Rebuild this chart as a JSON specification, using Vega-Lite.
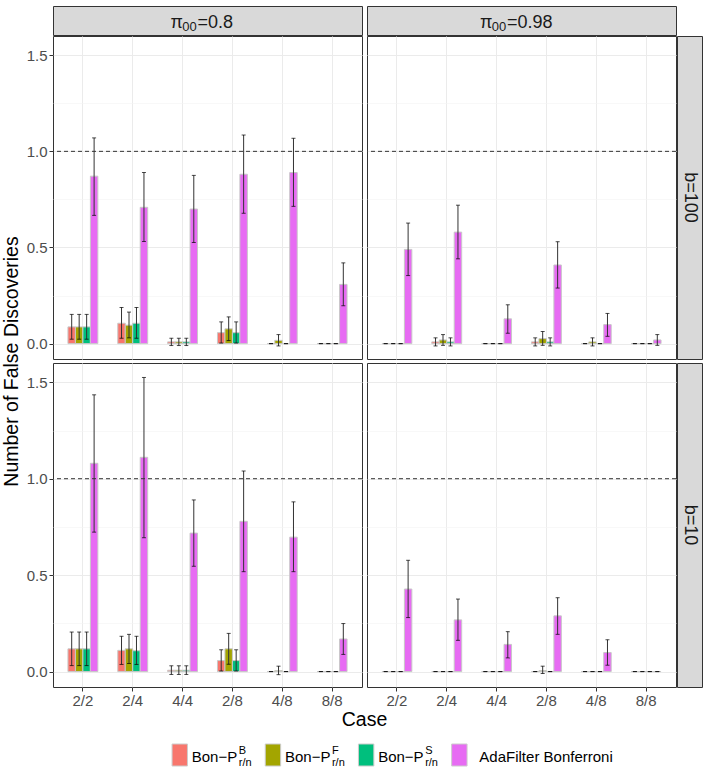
{
  "$schema": "https://vega.github.io/schema/vega-lite/v6.json",
  "padding": {"left": 2, "top": 5, "right": 5, "bottom": 0},
  "config": {"font": "Liberation Sans", "view": {"stroke": "#333333"}, "legend": {"disable": true}},
  "datasets": {
    "fd": [
      {"pi":"0.8","b":"100","case":"2/2","method":"Bon-P(B)","mean":0.087,"lo":0.023,"hi":0.152},
      {"pi":"0.8","b":"100","case":"2/2","method":"Bon-P(F)","mean":0.087,"lo":0.023,"hi":0.152},
      {"pi":"0.8","b":"100","case":"2/2","method":"Bon-P(S)","mean":0.087,"lo":0.023,"hi":0.152},
      {"pi":"0.8","b":"100","case":"2/2","method":"AdaFilter Bonferroni","mean":0.871,"lo":0.667,"hi":1.07},
      {"pi":"0.8","b":"100","case":"2/4","method":"Bon-P(B)","mean":0.106,"lo":0.028,"hi":0.188},
      {"pi":"0.8","b":"100","case":"2/4","method":"Bon-P(F)","mean":0.096,"lo":0.03,"hi":0.164},
      {"pi":"0.8","b":"100","case":"2/4","method":"Bon-P(S)","mean":0.106,"lo":0.028,"hi":0.188},
      {"pi":"0.8","b":"100","case":"2/4","method":"AdaFilter Bonferroni","mean":0.709,"lo":0.531,"hi":0.89},
      {"pi":"0.8","b":"100","case":"4/4","method":"Bon-P(B)","mean":0.009,"lo":-0.01,"hi":0.028},
      {"pi":"0.8","b":"100","case":"4/4","method":"Bon-P(F)","mean":0.009,"lo":-0.01,"hi":0.028},
      {"pi":"0.8","b":"100","case":"4/4","method":"Bon-P(S)","mean":0.009,"lo":-0.01,"hi":0.028},
      {"pi":"0.8","b":"100","case":"4/4","method":"AdaFilter Bonferroni","mean":0.7,"lo":0.526,"hi":0.875},
      {"pi":"0.8","b":"100","case":"2/8","method":"Bon-P(B)","mean":0.057,"lo":0.003,"hi":0.113},
      {"pi":"0.8","b":"100","case":"2/8","method":"Bon-P(F)","mean":0.077,"lo":0.016,"hi":0.139},
      {"pi":"0.8","b":"100","case":"2/8","method":"Bon-P(S)","mean":0.057,"lo":0.003,"hi":0.113},
      {"pi":"0.8","b":"100","case":"2/8","method":"AdaFilter Bonferroni","mean":0.881,"lo":0.678,"hi":1.085},
      {"pi":"0.8","b":"100","case":"4/8","method":"Bon-P(B)","mean":0,"lo":0,"hi":0},
      {"pi":"0.8","b":"100","case":"4/8","method":"Bon-P(F)","mean":0.017,"lo":-0.012,"hi":0.047},
      {"pi":"0.8","b":"100","case":"4/8","method":"Bon-P(S)","mean":0,"lo":0,"hi":0},
      {"pi":"0.8","b":"100","case":"4/8","method":"AdaFilter Bonferroni","mean":0.89,"lo":0.714,"hi":1.068},
      {"pi":"0.8","b":"100","case":"8/8","method":"Bon-P(B)","mean":0,"lo":0,"hi":0},
      {"pi":"0.8","b":"100","case":"8/8","method":"Bon-P(F)","mean":0,"lo":0,"hi":0},
      {"pi":"0.8","b":"100","case":"8/8","method":"Bon-P(S)","mean":0,"lo":0,"hi":0},
      {"pi":"0.8","b":"100","case":"8/8","method":"AdaFilter Bonferroni","mean":0.308,"lo":0.197,"hi":0.42},

      {"pi":"0.98","b":"100","case":"2/2","method":"Bon-P(B)","mean":0,"lo":0,"hi":0},
      {"pi":"0.98","b":"100","case":"2/2","method":"Bon-P(F)","mean":0,"lo":0,"hi":0},
      {"pi":"0.98","b":"100","case":"2/2","method":"Bon-P(S)","mean":0,"lo":0,"hi":0},
      {"pi":"0.98","b":"100","case":"2/2","method":"AdaFilter Bonferroni","mean":0.49,"lo":0.354,"hi":0.627},
      {"pi":"0.98","b":"100","case":"2/4","method":"Bon-P(B)","mean":0.009,"lo":-0.012,"hi":0.03},
      {"pi":"0.98","b":"100","case":"2/4","method":"Bon-P(F)","mean":0.019,"lo":-0.009,"hi":0.047},
      {"pi":"0.98","b":"100","case":"2/4","method":"Bon-P(S)","mean":0.009,"lo":-0.012,"hi":0.03},
      {"pi":"0.98","b":"100","case":"2/4","method":"AdaFilter Bonferroni","mean":0.58,"lo":0.441,"hi":0.72},
      {"pi":"0.98","b":"100","case":"4/4","method":"Bon-P(B)","mean":0,"lo":0,"hi":0},
      {"pi":"0.98","b":"100","case":"4/4","method":"Bon-P(F)","mean":0,"lo":0,"hi":0},
      {"pi":"0.98","b":"100","case":"4/4","method":"Bon-P(S)","mean":0,"lo":0,"hi":0},
      {"pi":"0.98","b":"100","case":"4/4","method":"AdaFilter Bonferroni","mean":0.129,"lo":0.054,"hi":0.202},
      {"pi":"0.98","b":"100","case":"2/8","method":"Bon-P(B)","mean":0.009,"lo":-0.012,"hi":0.03},
      {"pi":"0.98","b":"100","case":"2/8","method":"Bon-P(F)","mean":0.026,"lo":-0.009,"hi":0.063},
      {"pi":"0.98","b":"100","case":"2/8","method":"Bon-P(S)","mean":0.009,"lo":-0.012,"hi":0.03},
      {"pi":"0.98","b":"100","case":"2/8","method":"AdaFilter Bonferroni","mean":0.409,"lo":0.289,"hi":0.53},
      {"pi":"0.98","b":"100","case":"4/8","method":"Bon-P(B)","mean":0,"lo":0,"hi":0},
      {"pi":"0.98","b":"100","case":"4/8","method":"Bon-P(F)","mean":0.009,"lo":-0.012,"hi":0.03},
      {"pi":"0.98","b":"100","case":"4/8","method":"Bon-P(S)","mean":0,"lo":0,"hi":0},
      {"pi":"0.98","b":"100","case":"4/8","method":"AdaFilter Bonferroni","mean":0.099,"lo":0.038,"hi":0.157},
      {"pi":"0.98","b":"100","case":"8/8","method":"Bon-P(B)","mean":0,"lo":0,"hi":0},
      {"pi":"0.98","b":"100","case":"8/8","method":"Bon-P(F)","mean":0,"lo":0,"hi":0},
      {"pi":"0.98","b":"100","case":"8/8","method":"Bon-P(S)","mean":0,"lo":0,"hi":0},
      {"pi":"0.98","b":"100","case":"8/8","method":"AdaFilter Bonferroni","mean":0.019,"lo":-0.009,"hi":0.047},

      {"pi":"0.8","b":"10","case":"2/2","method":"Bon-P(B)","mean":0.118,"lo":0.031,"hi":0.205},
      {"pi":"0.8","b":"10","case":"2/2","method":"Bon-P(F)","mean":0.118,"lo":0.031,"hi":0.205},
      {"pi":"0.8","b":"10","case":"2/2","method":"Bon-P(S)","mean":0.118,"lo":0.031,"hi":0.205},
      {"pi":"0.8","b":"10","case":"2/2","method":"AdaFilter Bonferroni","mean":1.08,"lo":0.723,"hi":1.435},
      {"pi":"0.8","b":"10","case":"2/4","method":"Bon-P(B)","mean":0.11,"lo":0.037,"hi":0.183},
      {"pi":"0.8","b":"10","case":"2/4","method":"Bon-P(F)","mean":0.118,"lo":0.042,"hi":0.193},
      {"pi":"0.8","b":"10","case":"2/4","method":"Bon-P(S)","mean":0.108,"lo":0.037,"hi":0.183},
      {"pi":"0.8","b":"10","case":"2/4","method":"AdaFilter Bonferroni","mean":1.111,"lo":0.694,"hi":1.525},
      {"pi":"0.8","b":"10","case":"4/4","method":"Bon-P(B)","mean":0.007,"lo":-0.015,"hi":0.03},
      {"pi":"0.8","b":"10","case":"4/4","method":"Bon-P(F)","mean":0.007,"lo":-0.015,"hi":0.03},
      {"pi":"0.8","b":"10","case":"4/4","method":"Bon-P(S)","mean":0.007,"lo":-0.015,"hi":0.03},
      {"pi":"0.8","b":"10","case":"4/4","method":"AdaFilter Bonferroni","mean":0.718,"lo":0.546,"hi":0.89},
      {"pi":"0.8","b":"10","case":"2/8","method":"Bon-P(B)","mean":0.057,"lo":0.003,"hi":0.113},
      {"pi":"0.8","b":"10","case":"2/8","method":"Bon-P(F)","mean":0.118,"lo":0.038,"hi":0.198},
      {"pi":"0.8","b":"10","case":"2/8","method":"Bon-P(S)","mean":0.057,"lo":0.003,"hi":0.113},
      {"pi":"0.8","b":"10","case":"2/8","method":"AdaFilter Bonferroni","mean":0.779,"lo":0.518,"hi":1.04},
      {"pi":"0.8","b":"10","case":"4/8","method":"Bon-P(B)","mean":0,"lo":0,"hi":0},
      {"pi":"0.8","b":"10","case":"4/8","method":"Bon-P(F)","mean":0.005,"lo":-0.016,"hi":0.028},
      {"pi":"0.8","b":"10","case":"4/8","method":"Bon-P(S)","mean":0,"lo":0,"hi":0},
      {"pi":"0.8","b":"10","case":"4/8","method":"AdaFilter Bonferroni","mean":0.697,"lo":0.518,"hi":0.88},
      {"pi":"0.8","b":"10","case":"8/8","method":"Bon-P(B)","mean":0,"lo":0,"hi":0},
      {"pi":"0.8","b":"10","case":"8/8","method":"Bon-P(F)","mean":0,"lo":0,"hi":0},
      {"pi":"0.8","b":"10","case":"8/8","method":"Bon-P(S)","mean":0,"lo":0,"hi":0},
      {"pi":"0.8","b":"10","case":"8/8","method":"AdaFilter Bonferroni","mean":0.169,"lo":0.089,"hi":0.249},

      {"pi":"0.98","b":"10","case":"2/2","method":"Bon-P(B)","mean":0,"lo":0,"hi":0},
      {"pi":"0.98","b":"10","case":"2/2","method":"Bon-P(F)","mean":0,"lo":0,"hi":0},
      {"pi":"0.98","b":"10","case":"2/2","method":"Bon-P(S)","mean":0,"lo":0,"hi":0},
      {"pi":"0.98","b":"10","case":"2/2","method":"AdaFilter Bonferroni","mean":0.428,"lo":0.28,"hi":0.577},
      {"pi":"0.98","b":"10","case":"2/4","method":"Bon-P(B)","mean":0,"lo":0,"hi":0},
      {"pi":"0.98","b":"10","case":"2/4","method":"Bon-P(F)","mean":0,"lo":0,"hi":0},
      {"pi":"0.98","b":"10","case":"2/4","method":"Bon-P(S)","mean":0,"lo":0,"hi":0},
      {"pi":"0.98","b":"10","case":"2/4","method":"AdaFilter Bonferroni","mean":0.268,"lo":0.162,"hi":0.376},
      {"pi":"0.98","b":"10","case":"4/4","method":"Bon-P(B)","mean":0,"lo":0,"hi":0},
      {"pi":"0.98","b":"10","case":"4/4","method":"Bon-P(F)","mean":0,"lo":0,"hi":0},
      {"pi":"0.98","b":"10","case":"4/4","method":"Bon-P(S)","mean":0,"lo":0,"hi":0},
      {"pi":"0.98","b":"10","case":"4/4","method":"AdaFilter Bonferroni","mean":0.141,"lo":0.071,"hi":0.207},
      {"pi":"0.98","b":"10","case":"2/8","method":"Bon-P(B)","mean":0,"lo":0,"hi":0},
      {"pi":"0.98","b":"10","case":"2/8","method":"Bon-P(F)","mean":0.005,"lo":-0.01,"hi":0.028},
      {"pi":"0.98","b":"10","case":"2/8","method":"Bon-P(S)","mean":0,"lo":0,"hi":0},
      {"pi":"0.98","b":"10","case":"2/8","method":"AdaFilter Bonferroni","mean":0.289,"lo":0.193,"hi":0.383},
      {"pi":"0.98","b":"10","case":"4/8","method":"Bon-P(B)","mean":0,"lo":0,"hi":0},
      {"pi":"0.98","b":"10","case":"4/8","method":"Bon-P(F)","mean":0,"lo":0,"hi":0},
      {"pi":"0.98","b":"10","case":"4/8","method":"Bon-P(S)","mean":0,"lo":0,"hi":0},
      {"pi":"0.98","b":"10","case":"4/8","method":"AdaFilter Bonferroni","mean":0.099,"lo":0.033,"hi":0.165},
      {"pi":"0.98","b":"10","case":"8/8","method":"Bon-P(B)","mean":0,"lo":0,"hi":0},
      {"pi":"0.98","b":"10","case":"8/8","method":"Bon-P(F)","mean":0,"lo":0,"hi":0},
      {"pi":"0.98","b":"10","case":"8/8","method":"Bon-P(S)","mean":0,"lo":0,"hi":0},
      {"pi":"0.98","b":"10","case":"8/8","method":"AdaFilter Bonferroni","mean":0,"lo":0,"hi":0}
    ],
    "lg": [
      {"method":"Bon-P(B)","name":"Bon−P","sup":"B","sub":"r/n"},
      {"method":"Bon-P(F)","name":"Bon−P","sup":"F","sub":"r/n"},
      {"method":"Bon-P(S)","name":"Bon−P","sup":"S","sub":"r/n"},
      {"method":"AdaFilter Bonferroni","name":"AdaFilter Bonferroni","sup":"","sub":""}
    ]
  },
  "spacing": 3,
  "hconcat": [
    {
      "width": 20, "height": 711,
      "view": {"stroke": null},
      "data": {"values": [{"t": "Number of False Discoveries"}]},
      "mark": {"type": "text", "angle": 270, "fontSize": 19.5, "color": "#000000"},
      "encoding": {"text": {"field": "t"}}
    },
    {
      "spacing": 2,
      "vconcat": [
        {
          "spacing": -2,
          "vconcat": [
            {
              "spacing": 3,
              "hconcat": [
                {
                  "width": 309, "height": 29,
                  "view": {"fill": "#d9d9d9", "stroke": "#333333"},
                  "data": {"values": [{"sym": "π", "sub": "00", "rest": "=0.8"}]},
                  "layer": [
                    {"mark": {"type": "text", "align": "left", "baseline": "alphabetic", "dx": -37, "dy": 7, "fontSize": 18, "color": "#1a1a1a"}, "encoding": {"text": {"field": "sym"}}},
                    {"mark": {"type": "text", "align": "left", "baseline": "alphabetic", "dx": -25.3, "dy": 10, "fontSize": 13, "color": "#1a1a1a"}, "encoding": {"text": {"field": "sub"}}},
                    {"mark": {"type": "text", "align": "left", "baseline": "alphabetic", "dx": -10, "dy": 7, "fontSize": 18, "color": "#1a1a1a"}, "encoding": {"text": {"field": "rest"}}}
                  ]
                },
                {
                  "width": 309, "height": 29,
                  "view": {"fill": "#d9d9d9", "stroke": "#333333"},
                  "data": {"values": [{"sym": "π", "sub": "00", "rest": "=0.98"}]},
                  "layer": [
                    {"mark": {"type": "text", "align": "left", "baseline": "alphabetic", "dx": -41.5, "dy": 7, "fontSize": 18, "color": "#1a1a1a"}, "encoding": {"text": {"field": "sym"}}},
                    {"mark": {"type": "text", "align": "left", "baseline": "alphabetic", "dx": -29.8, "dy": 10, "fontSize": 13, "color": "#1a1a1a"}, "encoding": {"text": {"field": "sub"}}},
                    {"mark": {"type": "text", "align": "left", "baseline": "alphabetic", "dx": -14.5, "dy": 7, "fontSize": 18, "color": "#1a1a1a"}, "encoding": {"text": {"field": "rest"}}}
                  ]
                }
              ]
            },
            {
              "spacing": -2,
              "hconcat": [
                {
                  "spacing": 3,
                  "hconcat": [
                    {
                      "width": 309, "height": 323,
                      "layer": [
                        {
                          "data": {"name": "fd"},
                          "transform": [{"filter": "datum.pi === '0.8' && datum.b === '100'"}],
                          "encoding": {
                            "x": {"field": "case", "type": "nominal", "sort": ["2/2","2/4","4/4","2/8","4/8","8/8"], "scale": {"domain": ["2/2","2/4","4/4","2/8","4/8","8/8"], "paddingInner": 0.4, "paddingOuter": 0.3}, "axis": {"title": null, "labels": false, "ticks": false, "domain": false, "grid": true, "gridColor": "#ebebeb", "bandPosition": 0.5}},
                            "xOffset": {"field": "method", "type": "nominal", "sort": ["Bon-P(B)","Bon-P(F)","Bon-P(S)","AdaFilter Bonferroni"], "scale": {"domain": ["Bon-P(B)","Bon-P(F)","Bon-P(S)","AdaFilter Bonferroni"], "paddingInner": 0, "paddingOuter": 0}}
                          },
                          "layer": [
                            {"mark": {"type": "bar", "stroke": "#c8c8c8", "strokeWidth": 1},
                             "encoding": {
                               "y": {"field": "mean", "type": "quantitative", "title": null, "scale": {"domain": [-0.08, 1.6], "nice": false, "zero": false},
                                     "axis": {"title": null, "values": [0,0.25,0.5,0.75,1,1.25,1.5], "labelExpr": "datum.value % 0.5 === 0 ? format(datum.value, '.1f') : ''", "labelOverlap": false, "domain": false, "tickSize": 4, "tickColor": "#333333", "tickOpacity": {"condition": {"test": "datum.value % 0.5 !== 0", "value": 0}, "value": 1}, "labelFontSize": 15, "labelColor": "#4d4d4d", "labelPadding": 2, "gridColor": {"condition": {"test": "datum.value % 0.5 !== 0", "value": "#f4f4f4"}, "value": "#ebebeb"}, "gridWidth": {"condition": {"test": "datum.value % 0.5 !== 0", "value": 0.6}, "value": 1}}},
                               "color": {"field": "method", "type": "nominal", "scale": {"domain": ["Bon-P(B)","Bon-P(F)","Bon-P(S)","AdaFilter Bonferroni"], "range": ["#F8766D","#A3A500","#00BF7D","#E76BF3"]}}
                             }},
                            {"mark": {"type": "rule", "color": "#333333", "strokeWidth": 1},
                             "encoding": {"y": {"field": "lo", "type": "quantitative", "title": null, "scale": {"domain": [-0.08, 1.6], "nice": false, "zero": false}}, "y2": {"field": "hi"}}},
                            {"mark": {"type": "tick", "orient": "horizontal", "size": 4, "thickness": 1, "color": "#000000"},
                             "encoding": {"y": {"field": "lo", "type": "quantitative", "title": null, "scale": {"domain": [-0.08, 1.6], "nice": false, "zero": false}}}},
                            {"mark": {"type": "tick", "orient": "horizontal", "size": 4, "thickness": 1, "color": "#000000"},
                             "encoding": {"y": {"field": "hi", "type": "quantitative", "title": null, "scale": {"domain": [-0.08, 1.6], "nice": false, "zero": false}}}}
                          ]
                        },
                        {
                          "data": {"values": [{"ref": 1}]},
                          "mark": {"type": "rule", "color": "#333333", "strokeDash": [4, 3], "strokeWidth": 1},
                          "encoding": {"y": {"field": "ref", "type": "quantitative", "title": null, "scale": {"domain": [-0.08, 1.6], "nice": false, "zero": false}}}
                        }
                      ]
                    },
                    {
                      "width": 309, "height": 323,
                      "layer": [
                        {
                          "data": {"name": "fd"},
                          "transform": [{"filter": "datum.pi === '0.98' && datum.b === '100'"}],
                          "encoding": {
                            "x": {"field": "case", "type": "nominal", "sort": ["2/2","2/4","4/4","2/8","4/8","8/8"], "scale": {"domain": ["2/2","2/4","4/4","2/8","4/8","8/8"], "paddingInner": 0.4, "paddingOuter": 0.3}, "axis": {"title": null, "labels": false, "ticks": false, "domain": false, "grid": true, "gridColor": "#ebebeb", "bandPosition": 0.5}},
                            "xOffset": {"field": "method", "type": "nominal", "sort": ["Bon-P(B)","Bon-P(F)","Bon-P(S)","AdaFilter Bonferroni"], "scale": {"domain": ["Bon-P(B)","Bon-P(F)","Bon-P(S)","AdaFilter Bonferroni"], "paddingInner": 0, "paddingOuter": 0}}
                          },
                          "layer": [
                            {"mark": {"type": "bar", "stroke": "#c8c8c8", "strokeWidth": 1},
                             "encoding": {
                               "y": {"field": "mean", "type": "quantitative", "title": null, "scale": {"domain": [-0.08, 1.6], "nice": false, "zero": false},
                                     "axis": {"title": null, "values": [0,0.25,0.5,0.75,1,1.25,1.5], "labels": false, "ticks": false, "domain": false, "gridColor": {"condition": {"test": "datum.value % 0.5 !== 0", "value": "#f4f4f4"}, "value": "#ebebeb"}, "gridWidth": {"condition": {"test": "datum.value % 0.5 !== 0", "value": 0.6}, "value": 1}}},
                               "color": {"field": "method", "type": "nominal", "scale": {"domain": ["Bon-P(B)","Bon-P(F)","Bon-P(S)","AdaFilter Bonferroni"], "range": ["#F8766D","#A3A500","#00BF7D","#E76BF3"]}}
                             }},
                            {"mark": {"type": "rule", "color": "#333333", "strokeWidth": 1},
                             "encoding": {"y": {"field": "lo", "type": "quantitative", "title": null, "scale": {"domain": [-0.08, 1.6], "nice": false, "zero": false}}, "y2": {"field": "hi"}}},
                            {"mark": {"type": "tick", "orient": "horizontal", "size": 4, "thickness": 1, "color": "#000000"},
                             "encoding": {"y": {"field": "lo", "type": "quantitative", "title": null, "scale": {"domain": [-0.08, 1.6], "nice": false, "zero": false}}}},
                            {"mark": {"type": "tick", "orient": "horizontal", "size": 4, "thickness": 1, "color": "#000000"},
                             "encoding": {"y": {"field": "hi", "type": "quantitative", "title": null, "scale": {"domain": [-0.08, 1.6], "nice": false, "zero": false}}}}
                          ]
                        },
                        {
                          "data": {"values": [{"ref": 1}]},
                          "mark": {"type": "rule", "color": "#333333", "strokeDash": [4, 3], "strokeWidth": 1},
                          "encoding": {"y": {"field": "ref", "type": "quantitative", "title": null, "scale": {"domain": [-0.08, 1.6], "nice": false, "zero": false}}}
                        }
                      ]
                    }
                  ]
                },
                {
                  "width": 25, "height": 323,
                  "view": {"fill": "#d9d9d9", "stroke": "#333333"},
                  "data": {"values": [{"label": "b=100"}]},
                  "mark": {"type": "text", "fontSize": 18, "angle": 90, "color": "#1a1a1a"},
                  "encoding": {"text": {"field": "label"}}
                }
              ]
            }
          ]
        },
        {
          "spacing": 0,
          "vconcat": [
            {
              "spacing": -2,
              "hconcat": [
                {
                  "spacing": 3,
                  "hconcat": [
                    {
                      "width": 309, "height": 324,
                      "layer": [
                        {
                          "data": {"name": "fd"},
                          "transform": [{"filter": "datum.pi === '0.8' && datum.b === '10'"}],
                          "encoding": {
                            "x": {"field": "case", "type": "nominal", "sort": ["2/2","2/4","4/4","2/8","4/8","8/8"], "scale": {"domain": ["2/2","2/4","4/4","2/8","4/8","8/8"], "paddingInner": 0.4, "paddingOuter": 0.3}, "axis": {"title": null, "labelAngle": 0, "domain": false, "grid": true, "gridColor": "#ebebeb", "bandPosition": 0.5, "tickSize": 4, "tickColor": "#333333", "labelFontSize": 15, "labelColor": "#4d4d4d", "labelPadding": 2}},
                            "xOffset": {"field": "method", "type": "nominal", "sort": ["Bon-P(B)","Bon-P(F)","Bon-P(S)","AdaFilter Bonferroni"], "scale": {"domain": ["Bon-P(B)","Bon-P(F)","Bon-P(S)","AdaFilter Bonferroni"], "paddingInner": 0, "paddingOuter": 0}}
                          },
                          "layer": [
                            {"mark": {"type": "bar", "stroke": "#c8c8c8", "strokeWidth": 1},
                             "encoding": {
                               "y": {"field": "mean", "type": "quantitative", "title": null, "scale": {"domain": [-0.08, 1.6], "nice": false, "zero": false},
                                     "axis": {"title": null, "values": [0,0.25,0.5,0.75,1,1.25,1.5], "labelExpr": "datum.value % 0.5 === 0 ? format(datum.value, '.1f') : ''", "labelOverlap": false, "domain": false, "tickSize": 4, "tickColor": "#333333", "tickOpacity": {"condition": {"test": "datum.value % 0.5 !== 0", "value": 0}, "value": 1}, "labelFontSize": 15, "labelColor": "#4d4d4d", "labelPadding": 2, "gridColor": {"condition": {"test": "datum.value % 0.5 !== 0", "value": "#f4f4f4"}, "value": "#ebebeb"}, "gridWidth": {"condition": {"test": "datum.value % 0.5 !== 0", "value": 0.6}, "value": 1}}},
                               "color": {"field": "method", "type": "nominal", "scale": {"domain": ["Bon-P(B)","Bon-P(F)","Bon-P(S)","AdaFilter Bonferroni"], "range": ["#F8766D","#A3A500","#00BF7D","#E76BF3"]}}
                             }},
                            {"mark": {"type": "rule", "color": "#333333", "strokeWidth": 1},
                             "encoding": {"y": {"field": "lo", "type": "quantitative", "title": null, "scale": {"domain": [-0.08, 1.6], "nice": false, "zero": false}}, "y2": {"field": "hi"}}},
                            {"mark": {"type": "tick", "orient": "horizontal", "size": 4, "thickness": 1, "color": "#000000"},
                             "encoding": {"y": {"field": "lo", "type": "quantitative", "title": null, "scale": {"domain": [-0.08, 1.6], "nice": false, "zero": false}}}},
                            {"mark": {"type": "tick", "orient": "horizontal", "size": 4, "thickness": 1, "color": "#000000"},
                             "encoding": {"y": {"field": "hi", "type": "quantitative", "title": null, "scale": {"domain": [-0.08, 1.6], "nice": false, "zero": false}}}}
                          ]
                        },
                        {
                          "data": {"values": [{"ref": 1}]},
                          "mark": {"type": "rule", "color": "#333333", "strokeDash": [4, 3], "strokeWidth": 1},
                          "encoding": {"y": {"field": "ref", "type": "quantitative", "title": null, "scale": {"domain": [-0.08, 1.6], "nice": false, "zero": false}}}
                        }
                      ]
                    },
                    {
                      "width": 309, "height": 324,
                      "layer": [
                        {
                          "data": {"name": "fd"},
                          "transform": [{"filter": "datum.pi === '0.98' && datum.b === '10'"}],
                          "encoding": {
                            "x": {"field": "case", "type": "nominal", "sort": ["2/2","2/4","4/4","2/8","4/8","8/8"], "scale": {"domain": ["2/2","2/4","4/4","2/8","4/8","8/8"], "paddingInner": 0.4, "paddingOuter": 0.3}, "axis": {"title": null, "labelAngle": 0, "domain": false, "grid": true, "gridColor": "#ebebeb", "bandPosition": 0.5, "tickSize": 4, "tickColor": "#333333", "labelFontSize": 15, "labelColor": "#4d4d4d", "labelPadding": 2}},
                            "xOffset": {"field": "method", "type": "nominal", "sort": ["Bon-P(B)","Bon-P(F)","Bon-P(S)","AdaFilter Bonferroni"], "scale": {"domain": ["Bon-P(B)","Bon-P(F)","Bon-P(S)","AdaFilter Bonferroni"], "paddingInner": 0, "paddingOuter": 0}}
                          },
                          "layer": [
                            {"mark": {"type": "bar", "stroke": "#c8c8c8", "strokeWidth": 1},
                             "encoding": {
                               "y": {"field": "mean", "type": "quantitative", "title": null, "scale": {"domain": [-0.08, 1.6], "nice": false, "zero": false},
                                     "axis": {"title": null, "values": [0,0.25,0.5,0.75,1,1.25,1.5], "labels": false, "ticks": false, "domain": false, "gridColor": {"condition": {"test": "datum.value % 0.5 !== 0", "value": "#f4f4f4"}, "value": "#ebebeb"}, "gridWidth": {"condition": {"test": "datum.value % 0.5 !== 0", "value": 0.6}, "value": 1}}},
                               "color": {"field": "method", "type": "nominal", "scale": {"domain": ["Bon-P(B)","Bon-P(F)","Bon-P(S)","AdaFilter Bonferroni"], "range": ["#F8766D","#A3A500","#00BF7D","#E76BF3"]}}
                             }},
                            {"mark": {"type": "rule", "color": "#333333", "strokeWidth": 1},
                             "encoding": {"y": {"field": "lo", "type": "quantitative", "title": null, "scale": {"domain": [-0.08, 1.6], "nice": false, "zero": false}}, "y2": {"field": "hi"}}},
                            {"mark": {"type": "tick", "orient": "horizontal", "size": 4, "thickness": 1, "color": "#000000"},
                             "encoding": {"y": {"field": "lo", "type": "quantitative", "title": null, "scale": {"domain": [-0.08, 1.6], "nice": false, "zero": false}}}},
                            {"mark": {"type": "tick", "orient": "horizontal", "size": 4, "thickness": 1, "color": "#000000"},
                             "encoding": {"y": {"field": "hi", "type": "quantitative", "title": null, "scale": {"domain": [-0.08, 1.6], "nice": false, "zero": false}}}}
                          ]
                        },
                        {
                          "data": {"values": [{"ref": 1}]},
                          "mark": {"type": "rule", "color": "#333333", "strokeDash": [4, 3], "strokeWidth": 1},
                          "encoding": {"y": {"field": "ref", "type": "quantitative", "title": null, "scale": {"domain": [-0.08, 1.6], "nice": false, "zero": false}}}
                        }
                      ]
                    }
                  ]
                },
                {
                  "width": 25, "height": 324,
                  "view": {"fill": "#d9d9d9", "stroke": "#333333"},
                  "data": {"values": [{"label": "b=10"}]},
                  "mark": {"type": "text", "fontSize": 18, "angle": 90, "color": "#1a1a1a"},
                  "encoding": {"text": {"field": "label"}}
                }
              ]
            },
            {
              "width": 623, "height": 17,
              "view": {"stroke": null},
              "data": {"values": [{"t": "Case"}]},
              "mark": {"type": "text", "fontSize": 19.5, "color": "#000000"},
              "encoding": {"text": {"field": "t"}}
            }
          ]
        },
        {
          "width": 466, "height": 48,
          "view": {"stroke": null},
          "data": {"name": "lg"},
          "encoding": {
            "x": {"field": "method", "type": "nominal", "sort": ["Bon-P(B)","Bon-P(F)","Bon-P(S)","AdaFilter Bonferroni"], "scale": {"type": "point", "domain": ["Bon-P(B)","Bon-P(F)","Bon-P(S)","AdaFilter Bonferroni"], "padding": 1, "align": 0.68}, "axis": null}
          },
          "layer": [
            {"mark": {"type": "point", "shape": "M-0.7,-1H0.7V1H-0.7Z", "size": 484, "filled": true, "opacity": 1, "stroke": "#cccccc", "strokeWidth": 1},
             "encoding": {"color": {"field": "method", "type": "nominal", "scale": {"domain": ["Bon-P(B)","Bon-P(F)","Bon-P(S)","AdaFilter Bonferroni"], "range": ["#F8766D","#A3A500","#00BF7D","#E76BF3"]}}}},
            {"transform": [{"filter": "datum.sup !== ''"}],
             "mark": {"type": "text", "align": "left", "baseline": "alphabetic", "dx": 12, "dy": 7, "fontSize": 15, "color": "#000000"},
             "encoding": {"text": {"field": "name"}}},
            {"transform": [{"filter": "datum.sup === ''"}],
             "mark": {"type": "text", "align": "left", "baseline": "alphabetic", "dx": 20, "dy": 7, "fontSize": 15, "color": "#000000"},
             "encoding": {"text": {"field": "name"}}},
            {"transform": [{"filter": "datum.sup !== ''"}],
             "mark": {"type": "text", "align": "left", "baseline": "alphabetic", "dx": 59, "dy": -1, "fontSize": 11, "color": "#000000"},
             "encoding": {"text": {"field": "sup"}}},
            {"transform": [{"filter": "datum.sup !== ''"}],
             "mark": {"type": "text", "align": "left", "baseline": "alphabetic", "dx": 59, "dy": 11, "fontSize": 11, "color": "#000000"},
             "encoding": {"text": {"field": "sub"}}}
          ]
        }
      ]
    }
  ]
}
